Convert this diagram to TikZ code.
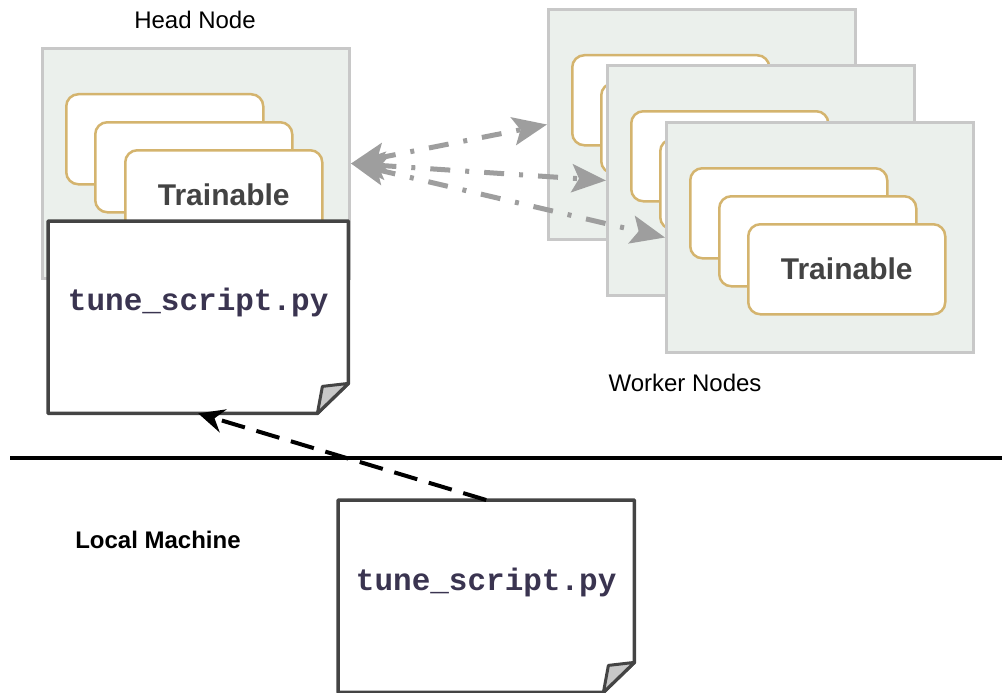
\documentclass[tikz,border=0pt]{standalone}
\usepackage{fontspec}
\setmainfont{Liberation Sans}
\setmonofont{Liberation Mono}
\usepackage{tikz}
\usetikzlibrary{positioning, arrows.meta}
\definecolor{nodegray}{HTML}{EBF0EC}
\definecolor{nodeline}{HTML}{C8C8C8}
\definecolor{cardtan}{HTML}{D4B46E}
\definecolor{docline}{HTML}{444444}
\definecolor{codeink}{HTML}{3A3450}
\definecolor{syncgray}{HTML}{9E9E9E}
\definecolor{labelink}{HTML}{434343}

\tikzset{
  machine/.style={draw=nodeline, fill=nodegray, line width=3pt, anchor=north west,
    minimum width=307pt, minimum height=230pt, inner sep=0pt},
  card/.style={draw=cardtan, fill=white, line width=2.5pt, rounded corners=12pt,
    minimum width=197pt, minimum height=90pt, inner sep=0pt, text=labelink,
    font=\fontsize{30}{36}\selectfont\bfseries},
  doc/.style={anchor=north west, minimum height=192pt, inner sep=0pt},
  code/.style={font=\ttfamily\bfseries\fontsize{31}{37}\selectfont, text=codeink},
  caption/.style={font=\fontsize{24}{29}\selectfont},
  sync/.style={{Stealth[length=34pt, width=28pt, inset=7pt]}-{Stealth[length=34pt, width=28pt, inset=7pt]},
    syncgray, line width=5pt, dash pattern=on 20pt off 15pt on 4pt off 15pt},
  push/.style={-{Stealth[length=26pt, width=24pt, inset=9pt]}, black, line width=4pt,
    dash pattern=on 24pt off 12pt},
}

% sheet of paper with a folded corner, drawn round an empty node
\newcommand{\docsheet}[1]{%
  \draw[docline, line width=3.5pt, fill=white, line join=round]
    (#1.north west) -- (#1.north east) -- ([yshift=30pt]#1.south east)
    -- ([xshift=-31pt]#1.south east) -- (#1.south west) -- cycle;
  \draw[docline, line width=3pt, fill=nodeline, line join=round]
    ([yshift=30pt]#1.south east) -- ([xshift=-26pt, yshift=27pt]#1.south east)
    -- ([xshift=-31pt]#1.south east) -- cycle;}

\begin{document}
\begin{tikzpicture}[x=1pt, y=-1pt]
  \useasboundingbox (0,0) rectangle (1002,693);

  % head node
  \node[machine] (head) at (41,47) {};
  \node[card, below right=46pt and 24pt of head.north west] (head-c1) {};
  \node[card, below right=74pt and 53pt of head.north west] (head-c2) {};
  \node[card, below right=102pt and 83pt of head.north west] (head-c3) {Trainable};
  \node[caption] (headlabel) at (195,20) {Head Node};

  % worker nodes
  \foreach \w/\px/\py/\txt in {1/547/8/{}, 2/606/64/{}, 3/665/121/Trainable} {
    \node[machine] (w\w) at (\px,\py) {};
    \node[card, below right=46pt and 24pt of w\w.north west] (w\w-c1) {};
    \node[card, below right=74pt and 53pt of w\w.north west] (w\w-c2) {};
    \node[card, below right=102pt and 82pt of w\w.north west] (w\w-c3) {\txt};
  }
  \node[caption] (workerlabel) at (685,383) {Worker Nodes};

  \foreach \w in {1,2,3}
    \draw[sync] (head.east) -- (w\w.west);

  % script on the head node
  \node[doc, minimum width=300pt] (script) at (48,221) {};
  \docsheet{script}
  \node[code] (scripttxt) at ([yshift=15pt]script.center) {tune\_script.py};

  % divider
  \coordinate (divL) at (10,458);
  \coordinate (divR) at (1002,458);
  \draw[line width=4pt] (divL) -- (divR);

  % local machine
  \node[caption, font=\fontsize{24}{29}\selectfont\bfseries] (locallabel) at (158,540) {Local Machine};
  \node[doc, minimum width=296pt] (local) at (338,500) {};
  \docsheet{local}
  \node[code] (localtxt) at ([yshift=14pt]local.center) {tune\_script.py};

  \draw[push] (local.north) -- (script.south);
\end{tikzpicture}
\end{document}
